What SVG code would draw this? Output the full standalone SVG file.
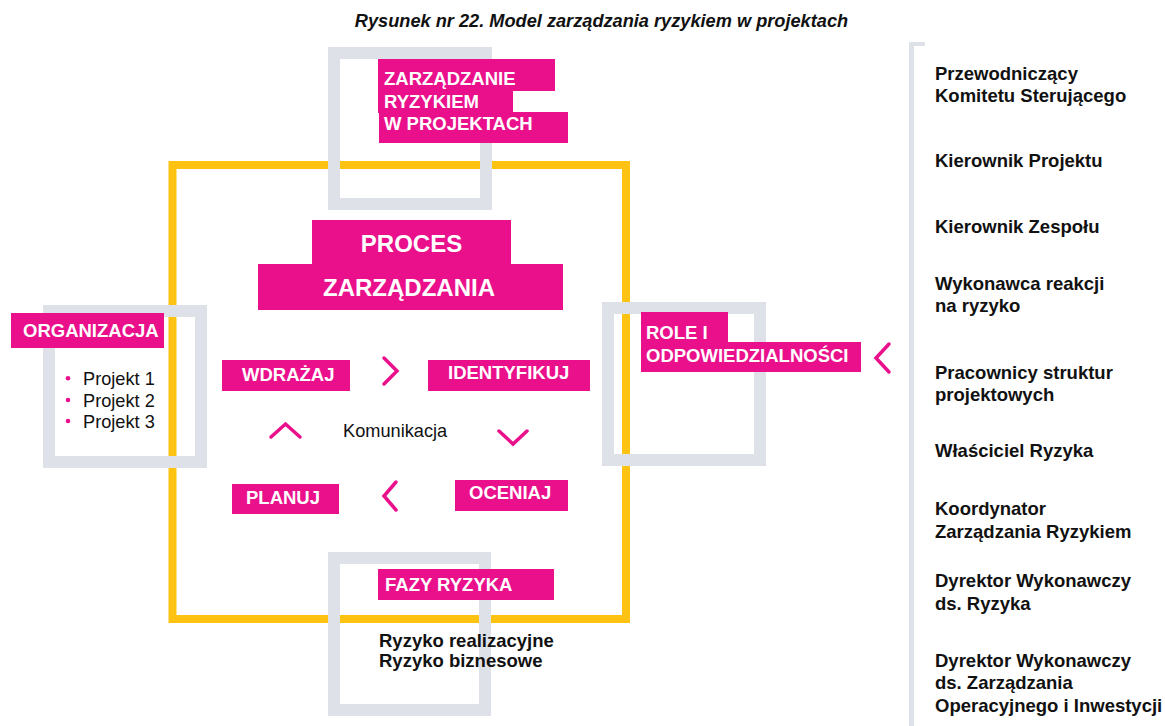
<svg xmlns="http://www.w3.org/2000/svg" width="1165" height="726" viewBox="0 0 1165 726">
<defs>
<style>
text{font-family:"Liberation Sans",Arial,sans-serif;font-size:18.5px}
.w{fill:#fff;font-weight:bold}
.b{fill:#111;font-weight:bold}
.r{fill:#111;font-size:18.2px}
.big{font-size:24px}
.title{font-size:18.2px;font-style:italic}
.pk{fill:#ea108c}
.gr{fill:none;stroke:#dfe1e8;stroke-width:12}
.ch{fill:none;stroke:#ea108c;stroke-width:3.5;stroke-linecap:round;stroke-linejoin:miter}
</style>
</defs>
<rect width="1165" height="726" fill="#fff"/>
<text x="601.5" y="27" text-anchor="middle" class="b title">Rysunek nr 22. Model zarządzania ryzykiem w projektach</text>

<g id="frame">
<rect x="172.5" y="165" width="453.5" height="454" fill="none" stroke="#fec312" stroke-width="8"/>
</g>

<g id="node-top">
<rect class="gr" x="334" y="53" width="152" height="151"/>
<rect class="pk" x="378" y="59" width="177" height="32"/>
<rect class="pk" x="378" y="90" width="135" height="23"/>
<rect class="pk" x="379" y="112" width="189" height="31"/>
<text class="w" x="384" y="85">ZARZĄDZANIE</text>
<text class="w" x="384" y="108">RYZYKIEM</text>
<text class="w" x="384" y="130">W PROJEKTACH</text>
</g>

<g id="node-left">
<rect class="gr" x="49" y="311" width="152" height="151"/>
<rect class="pk" x="11" y="313" width="153" height="35"/>
<text class="w" x="23" y="337">ORGANIZACJA</text>
<circle class="pk" cx="68" cy="378.3" r="2.3"/>
<circle class="pk" cx="68" cy="400" r="2.3"/>
<circle class="pk" cx="68" cy="421" r="2.3"/>
<text class="r" x="83" y="385">Projekt 1</text>
<text class="r" x="83" y="407">Projekt 2</text>
<text class="r" x="83" y="428">Projekt 3</text>
</g>

<g id="node-right">
<rect class="gr" x="608" y="308" width="152" height="152"/>
<rect class="pk" x="641" y="312" width="87" height="31"/>
<rect class="pk" x="641" y="342" width="220" height="30"/>
<text class="w" x="646" y="339">ROLE I</text>
<text class="w" x="646" y="362">ODPOWIEDZIALNOŚCI</text>
</g>

<g id="node-bottom">
<rect class="gr" x="334" y="558" width="151" height="152"/>
<rect class="pk" x="378" y="569" width="176" height="31"/>
<text class="w" x="385" y="591">FAZY RYZYKA</text>
<text class="b" x="379" y="647">Ryzyko realizacyjne</text>
<text class="b" x="379" y="667">Ryzyko biznesowe</text>
</g>

<g id="node-proces">
<rect class="pk" x="312" y="220" width="199" height="45"/>
<rect class="pk" x="258" y="264" width="305" height="46"/>
<text class="w big" x="411.5" y="252" text-anchor="middle">PROCES</text>
<text class="w big" x="409" y="296" text-anchor="middle">ZARZĄDZANIA</text>
</g>

<g id="node-wdrazaj">
<rect class="pk" x="222" y="360" width="128" height="31"/>
<text class="w" x="242" y="381">WDRAŻAJ</text>
</g>
<g id="node-identyfikuj">
<rect class="pk" x="428" y="360" width="162" height="31"/>
<text class="w" x="448" y="379">IDENTYFIKUJ</text>
</g>
<g id="node-planuj">
<rect class="pk" x="232" y="484" width="107" height="30"/>
<text class="w" x="246" y="504">PLANUJ</text>
</g>
<g id="node-oceniaj">
<rect class="pk" x="455" y="480" width="113" height="31"/>
<text class="w" x="469" y="499">OCENIAJ</text>
</g>
<g id="node-komunikacja">
<text class="r" x="343" y="437">Komunikacja</text>
</g>

<g id="connectors">
<polyline class="ch" points="384,358 397,371 384,384"/>
<polyline class="ch" points="396,482 384,496 396,510"/>
<polyline class="ch" points="271,437 285.5,424 300,437"/>
<polyline class="ch" points="499,431 513,444 527,431"/>
<polyline class="ch" points="889,344 876,358 889,372"/>
</g>

<g id="node-roles">
<rect x="909" y="42" width="5" height="684" fill="#dfe1e8"/>
<rect x="909" y="42" width="16" height="4" fill="#dfe1e8"/>
<text class="b" x="935" y="80">Przewodniczący</text>
<text class="b" x="935" y="102">Komitetu Sterującego</text>
<text class="b" x="935" y="167">Kierownik Projektu</text>
<text class="b" x="935" y="233">Kierownik Zespołu</text>
<text class="b" x="935" y="290">Wykonawca reakcji</text>
<text class="b" x="935" y="312">na ryzyko</text>
<text class="b" x="935" y="379">Pracownicy struktur</text>
<text class="b" x="935" y="401">projektowych</text>
<text class="b" x="935" y="457">Właściciel Ryzyka</text>
<text class="b" x="935" y="515">Koordynator</text>
<text class="b" x="935" y="538">Zarządzania Ryzykiem</text>
<text class="b" x="935" y="587">Dyrektor Wykonawczy</text>
<text class="b" x="935" y="610">ds. Ryzyka</text>
<text class="b" x="935" y="667">Dyrektor Wykonawczy</text>
<text class="b" x="935" y="689">ds. Zarządzania</text>
<text class="b" x="935" y="712">Operacyjnego i Inwestycji</text>
</g>
</svg>
